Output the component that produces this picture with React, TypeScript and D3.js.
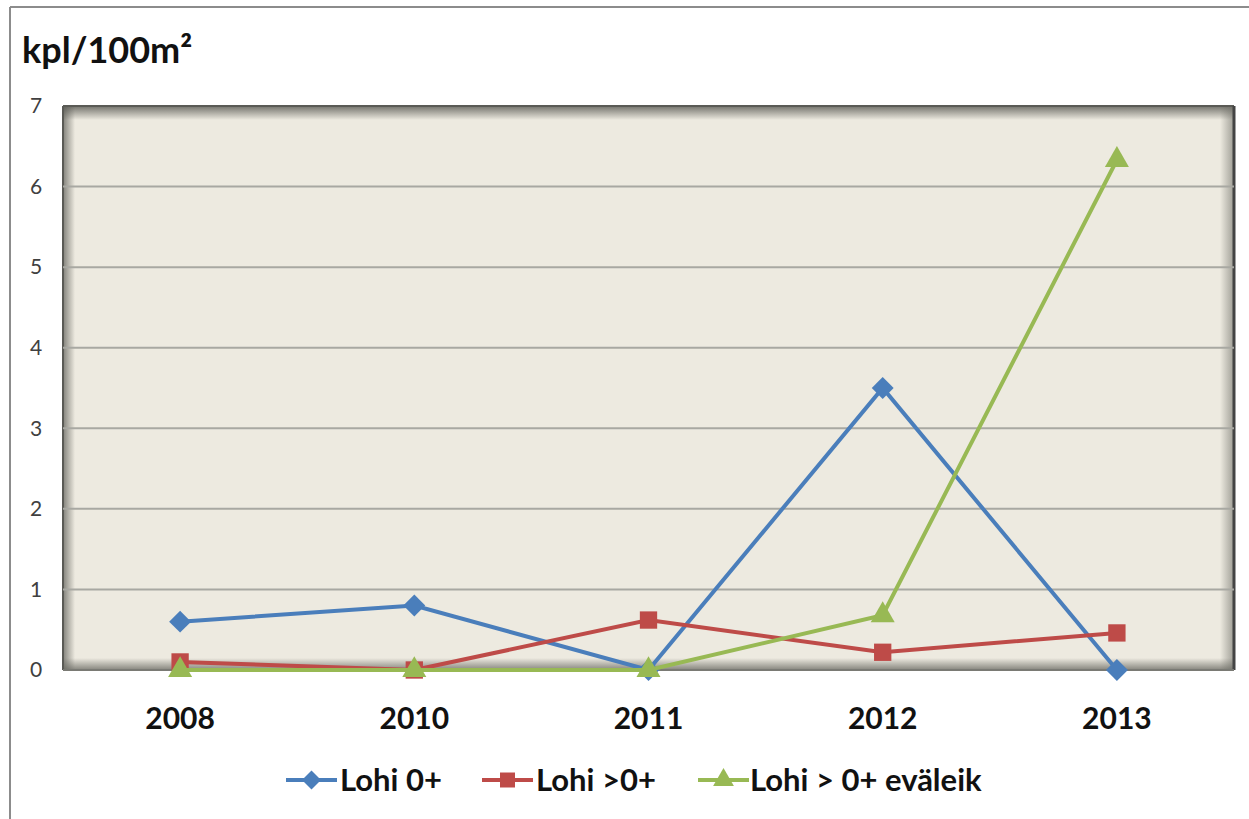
import React from 'react';
import * as d3 from 'd3';

const years = ['2008', '2010', '2011', '2012', '2013'];
const lohi0 = [0.6, 0.8, 0, 3.5, 0];
const lohiOver0 = [0.1, 0, 0.62, 0.22, 0.46];
const lohiFin = [0, 0, 0, 0.68, 6.33];
const yTicks = [0, 1, 2, 3, 4, 5, 6, 7];

const seriesNames = ['Lohi 0+', 'Lohi >0+', 'Lohi > 0+ eväleik'];
const seriesColors = ['#4A7EBB', '#BE4B48', '#98B954'];
const seriesShapes = [d3.symbolSquare, d3.symbolSquare, d3.symbolTriangle];
const seriesRotate = [45, 0, 0];

const W = 1249;
const H = 819;
const margin = { top: 106, right: 15, bottom: 149, left: 63 };
const FONT = 'Lato, "Open Sans", sans-serif';

const App = () => {
	const innerW = W - margin.left - margin.right;
	const innerH = H - margin.top - margin.bottom;

	const x = d3.scaleBand().domain(years).range([0, innerW]).padding(0);
	const y = d3.scaleLinear().domain([0, 7]).range([innerH, 0]);

	const allSeries = [lohi0, lohiOver0, lohiFin];
	const line = d3
		.line<number>()
		.x((_, i) => (x(years[i]) as number) + x.bandwidth() / 2)
		.y((d) => y(d));

	const symSizes = [240, 300, 250];

	// legend positions
	const legendY = 780;
	const legendItems = [
		{ lx: 286, tx: 340 },
		{ lx: 482, tx: 536 },
		{ lx: 698, tx: 750 }
	];

	return (
		<svg
			width={W}
			height={H}
			style={{ position: 'absolute', left: 0, top: 0, background: '#fff' }}
		>
			<defs>
				<linearGradient id="shTop" x1="0" y1="0" x2="0" y2="1">
					<stop offset="0" stopColor="#55554f" stopOpacity="0.8" />
					<stop offset="1" stopColor="#55554f" stopOpacity="0" />
				</linearGradient>
				<linearGradient id="shLeft" x1="0" y1="0" x2="1" y2="0">
					<stop offset="0" stopColor="#55554f" stopOpacity="0.7" />
					<stop offset="1" stopColor="#55554f" stopOpacity="0" />
				</linearGradient>
				<linearGradient id="shBottom" x1="0" y1="1" x2="0" y2="0">
					<stop offset="0" stopColor="#6b6b64" stopOpacity="0.8" />
					<stop offset="1" stopColor="#6b6b64" stopOpacity="0" />
				</linearGradient>
				<linearGradient id="shRight" x1="1" y1="0" x2="0" y2="0">
					<stop offset="0" stopColor="#6b6b64" stopOpacity="0.6" />
					<stop offset="1" stopColor="#6b6b64" stopOpacity="0" />
				</linearGradient>
			</defs>

			{/* outer frame */}
			<line x1={10} y1={7} x2={W} y2={7} stroke="#8c8c8c" strokeWidth={2} />
			<line x1={10} y1={7} x2={10} y2={H} stroke="#8c8c8c" strokeWidth={2} />

			{/* axis title */}
			<text x={22} y={63} fontFamily={FONT} fontWeight="bold" fontSize={36} fill="#111">
				kpl/100m²
			</text>

			<g transform={`translate(${margin.left},${margin.top})`}>
				{/* plot area */}
				<rect x={0} y={0} width={innerW} height={innerH} fill="#EDEAE0" />
				<rect x={0} y={0} width={innerW} height={14} fill="url(#shTop)" />
				<rect x={0} y={0} width={12} height={innerH} fill="url(#shLeft)" />
				<rect x={0} y={innerH - 12} width={innerW} height={12} fill="url(#shBottom)" />
				<rect x={innerW - 14} y={0} width={14} height={innerH} fill="url(#shRight)" />
				<line x1={0} y1={0} x2={innerW} y2={0} stroke="#5a5a55" strokeWidth={2} />
				<line x1={0} y1={0} x2={0} y2={innerH} stroke="#5a5a55" strokeWidth={2} />
				<line x1={innerW} y1={0} x2={innerW} y2={innerH} stroke="#444" strokeWidth={3} />

				{/* gridlines */}
				{yTicks.slice(1, -1).map((t) => (
					<line
						key={t}
						x1={0}
						x2={innerW}
						y1={y(t)}
						y2={y(t)}
						stroke="#a8a8a2"
						strokeWidth={2}
					/>
				))}
				<line x1={0} x2={innerW} y1={innerH} y2={innerH} stroke="#7a7a74" strokeWidth={2} />

				{/* y tick labels */}
				{yTicks.map((t) => (
					<text
						key={t}
						x={-27}
						y={y(t)}
						dy="0.35em"
						textAnchor="middle"
						fontFamily={FONT}
						fontSize={21}
						fill="#404040"
					>
						{t}
					</text>
				))}

				{/* x tick labels */}
				{years.map((yr) => (
					<text
						key={yr}
						x={(x(yr) as number) + x.bandwidth() / 2}
						y={innerH + 59}
						textAnchor="middle"
						fontFamily={FONT}
						fontWeight="bold"
						fontSize={30}
						fill="#111"
					>
						{yr}
					</text>
				))}

				{/* series */}
				{allSeries.map((vals, si) => (
					<g key={si}>
						<path
							d={line(vals) as string}
							fill="none"
							stroke={seriesColors[si]}
							strokeWidth={4}
						/>
						{vals.map((v, i) => (
							<path
								key={i}
								transform={`translate(${(x(years[i]) as number) + x.bandwidth() / 2},${y(v)}) rotate(${seriesRotate[si]})`}
								d={d3.symbol().type(seriesShapes[si]).size(symSizes[si])() as string}
								fill={seriesColors[si]}
							/>
						))}
					</g>
				))}
			</g>

			{/* legend */}
			{legendItems.map((it, i) => (
				<g key={i}>
					<line
						x1={it.lx}
						x2={it.lx + 51}
						y1={legendY}
						y2={legendY}
						stroke={seriesColors[i]}
						strokeWidth={4}
					/>
					<path
						transform={`translate(${it.lx + 25.5},${legendY}) rotate(${seriesRotate[i]})`}
						d={d3.symbol().type(seriesShapes[i]).size(symSizes[i] * 0.75)() as string}
						fill={seriesColors[i]}
					/>
					<text
						x={it.tx}
						y={legendY}
						dy="0.35em"
						fontFamily={FONT}
						fontWeight="bold"
						fontSize={31}
						fill="#111"
					>
						{seriesNames[i]}
					</text>
				</g>
			))}
		</svg>
	);
};

export default App;
